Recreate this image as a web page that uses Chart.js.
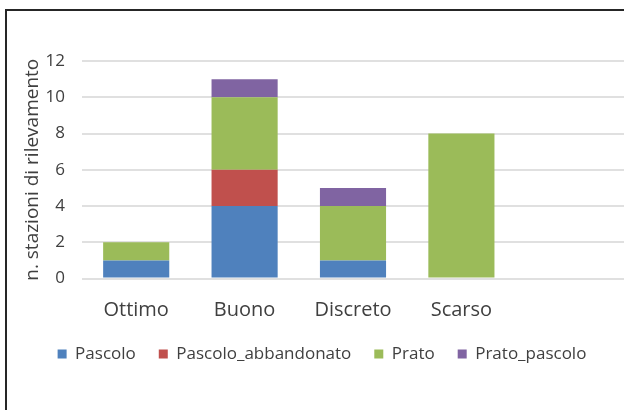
<!DOCTYPE html>
<html>
<head>
<meta charset="utf-8">
<script src="https://cdn.jsdelivr.net/npm/chart.js@4"></script>
<style>
  html, body { margin: 0; padding: 0; background: #fff; overflow: hidden; }
  #wrap { position: relative; width: 624px; height: 410px; overflow: hidden; }
  #frame { position: absolute; left: 5px; top: 9px; width: 800px; height: 600px;
           border-left: 2px solid #262626; border-top: 2px solid #262626; }
  #c { position: absolute; left: 0; top: 0; }
</style>
</head>
<body>
<div id="wrap">
  <div id="frame"></div>
  <canvas id="c" width="624" height="410"></canvas>
</div>
<script>
const categories = ['Ottimo', 'Buono', 'Discreto', 'Scarso', ''];
const pascolo = [1, 4, 1, 0, null];
const pascoloAbbandonato = [0, 2, 0, 0, null];
const prato = [1, 4, 3, 8, null];
const pratoPascolo = [0, 1, 1, 0, null];
const yTicks = [0, 2, 4, 6, 8, 10, 12];

const FONT = '"Open Sans", Lato, sans-serif';
const TXT = '#404040';

const ds = (label, data, color) => ({
  label, data, backgroundColor: color, borderWidth: 0,
  barPercentage: 0.61, categoryPercentage: 1.0
});

new Chart(document.getElementById('c'), {
  type: 'bar',
  data: {
    labels: categories,
    datasets: [
      ds('Pascolo', pascolo, '#4F81BD'),
      ds('Pascolo_abbandonato', pascoloAbbandonato, '#C0504D'),
      ds('Prato', prato, '#9BBB59'),
      ds('Prato_pascolo', pratoPascolo, '#8064A2')
    ]
  },
  options: {
    responsive: false,
    animation: false,
    layout: { padding: { top: 61, left: 20, right: 0, bottom: 37.5 } },
    plugins: {
      legend: {
        position: 'bottom',
        labels: {
          boxWidth: 9, boxHeight: 9, padding: 23,
          color: TXT, font: { family: FONT, size: 17 }
        }
      },
      tooltip: { enabled: false }
    },
    scales: {
      x: {
        stacked: true,
        grid: { display: false, drawTicks: true, tickLength: 20 },
        border: { display: false },
        ticks: { color: TXT, font: { family: FONT, size: 20 }, padding: 0 }
      },
      y: {
        stacked: true,
        min: yTicks[0], max: yTicks[yTicks.length - 1],
        afterBuildTicks: s => { s.ticks = yTicks.map(v => ({ value: v })); },
        afterFit: s => { s.width = 62; },
        grid: { color: '#e0e0e0', lineWidth: 2, drawTicks: false },
        border: { display: false },
        ticks: { color: TXT, font: { family: FONT, size: 17 }, padding: 17 },
        title: {
          display: true, text: 'n. stazioni di rilevamento', color: TXT,
          font: { family: FONT, size: 19 }, padding: { top: 1.6, bottom: 0 }
        }
      }
    }
  }
});
</script>
</body>
</html>
